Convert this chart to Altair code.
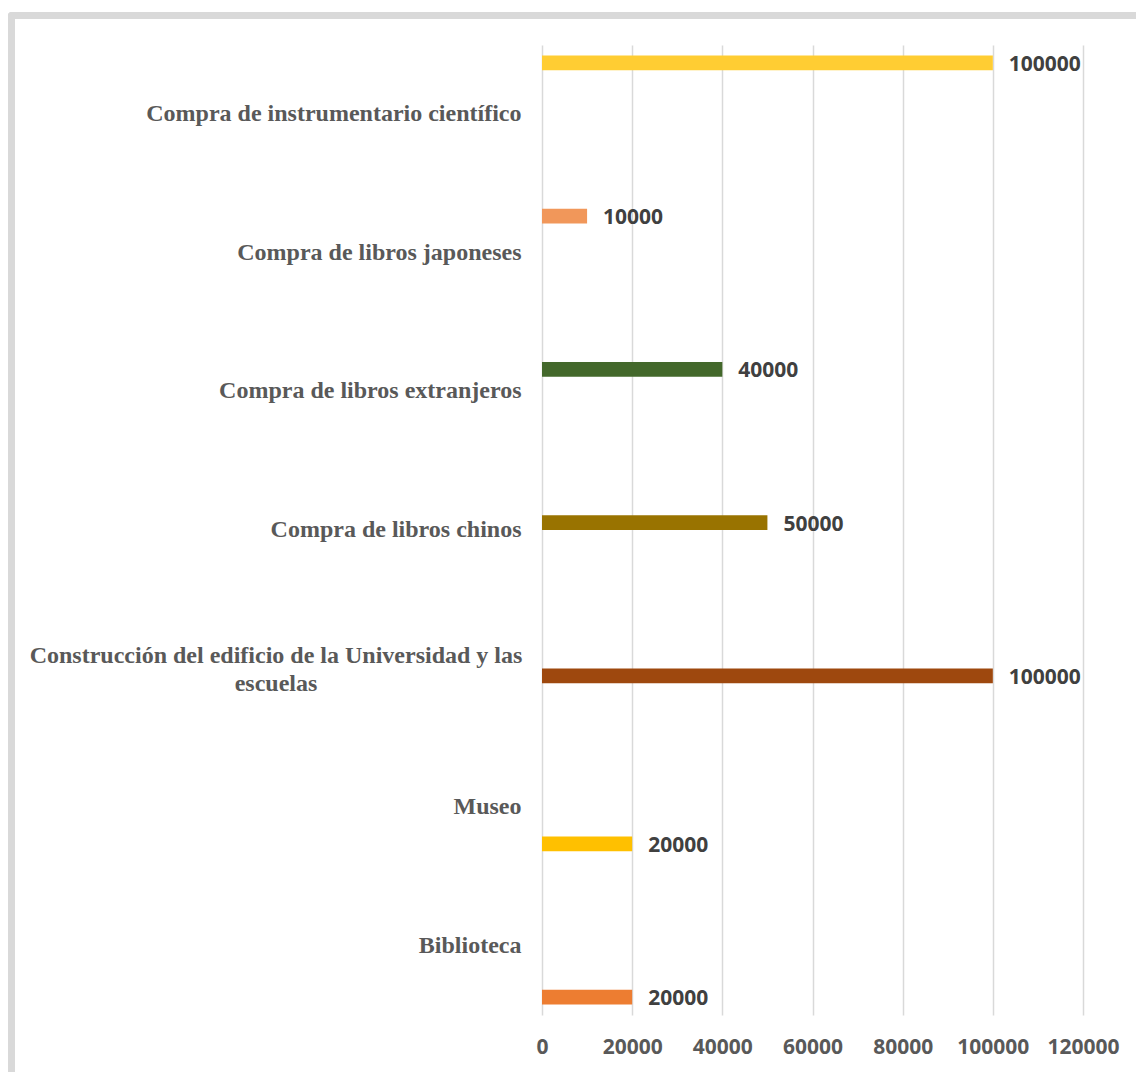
import altair as alt
import pandas as pd

categorias = [
    "Compra de instrumentario científico",
    "Compra de libros japoneses",
    "Compra de libros extranjeros",
    "Compra de libros chinos",
    "Construcción del edificio de la Universidad y las escuelas",
    "Museo",
    "Biblioteca",
]
valores = [100000, 10000, 40000, 50000, 100000, 20000, 20000]
colores = ["#FFCD33", "#F1975A", "#43682B", "#997300", "#9E480E", "#FFC000", "#ED7D31"]
# Excel series slots inside each category band (one empty series between Construcción and Museo)
series_slots = categorias[:5] + ["(serie vacía)"] + categorias[5:]
ticks_x = [0, 20000, 40000, 60000, 80000, 100000, 120000]

larga = categorias[4]
linea1 = "Construcción del edificio de la Universidad y las"
linea2 = "escuelas"

df = pd.DataFrame({"categoria": categorias, "serie": categorias, "valor": valores})

test_larga = f"datum.value == '{larga}'"

y_enc = alt.Y(
    "categoria:N",
    sort=categorias,
    scale=alt.Scale(domain=categorias, paddingInner=0, paddingOuter=0),
    axis=alt.Axis(
        title=None,
        domain=False,
        ticks=False,
        tickSize=0,
        grid=False,
        labelFont="Liberation Serif",
        labelFontWeight="bold",
        labelFontSize=24,
        labelColor="#595959",
        labelLimit=0,
        labelLineHeight=28,
        labelBaseline="middle",
        labelAlign={"condition": {"test": test_larga, "value": "center"}, "value": "right"},
        labelPadding={"condition": {"test": test_larga, "value": 266.5}, "value": 21},
        labelOffset={"condition": {"test": test_larga, "value": -13}, "value": 0},
        labelExpr=f"datum.label == '{larga}' ? ['{linea1}', '{linea2}'] : datum.label",
    ),
)
yoff_enc = alt.YOffset(
    "serie:N",
    scale=alt.Scale(domain=series_slots, paddingInner=0, paddingOuter=0.713),
)
x_enc = alt.X(
    "valor:Q",
    scale=alt.Scale(domain=[0, 120000], nice=False),
    axis=alt.Axis(
        values=ticks_x,
        title=None,
        domain=False,
        ticks=False,
        grid=True,
        gridColor="#D9D9D9",
        gridWidth=1.5,
        labelFont="Open Sans",
        labelFontWeight="bold",
        labelFontSize=21,
        labelColor="#595959",
        labelPadding=21,
        labelFlush=False,
        labelOverlap=False,
        format="d",
    ),
)
color_enc = alt.Color(
    "categoria:N", scale=alt.Scale(domain=categorias, range=colores), legend=None
)

base = alt.Chart(df)
bars = base.mark_bar().encode(y=y_enc, yOffset=yoff_enc, x=x_enc, color=color_enc)
texts = base.mark_text(
    align="left", baseline="middle", dx=16, dy=2,
    font="Open Sans", fontWeight="bold", fontSize=21, color="#404040",
).encode(y=y_enc, yOffset=yoff_enc, x=x_enc, text=alt.Text("valor:Q", format="d"))

marco = pd.DataFrame({"k": [0]})
borde_sup = alt.Chart(marco).mark_rule(color="#D9D9D9", strokeWidth=7, strokeCap="round").encode(
    x=alt.value(-530.5), x2=alt.value(620), y=alt.value(-29.5)
)
borde_izq = alt.Chart(marco).mark_rule(color="#D9D9D9", strokeWidth=7, strokeCap="round").encode(
    x=alt.value(-530.5), y=alt.value(-29.5), y2=alt.value(1060)
)

chart = (
    alt.layer(bars, texts, borde_sup, borde_izq)
    .properties(
        width=541,
        height=970,
        autosize=alt.AutoSizeParams(type="none"),
        padding={"left": 542, "top": 45, "right": 53, "bottom": 57},
        background="white",
    )
    .configure_view(stroke=None)
)

chart.save("out.html", embed_options={"renderer": "svg", "actions": False})
